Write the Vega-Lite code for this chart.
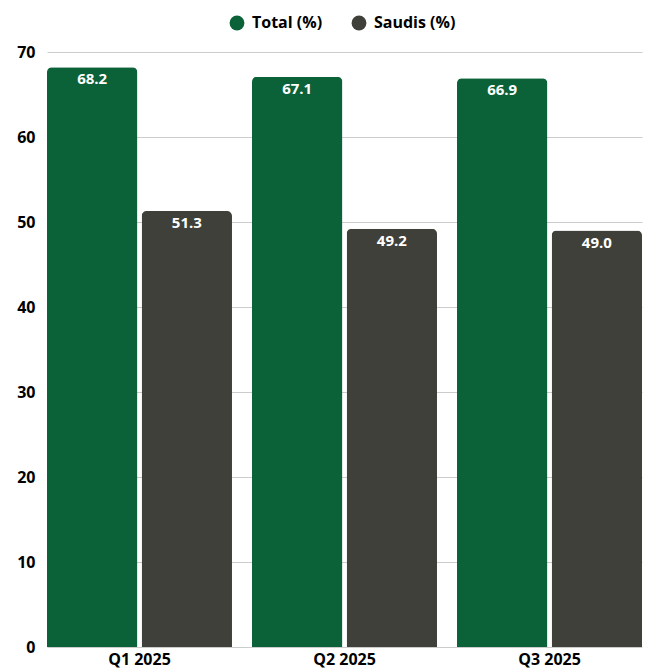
{
  "$schema": "https://vega.github.io/schema/vega-lite/v6.json",
  "autosize": {"type": "none"},
  "width": 595,
  "height": 595,
  "padding": {"left": 47, "top": 52, "right": 6, "bottom": 22},
  "background": "white",
  "config": {
    "font": "Open Sans",
    "view": {"stroke": null}
  },
  "data": {
    "values": [
      {"quarter": "Q1 2025", "series": "Total (%)", "value": 68.2},
      {"quarter": "Q1 2025", "series": "Saudis (%)", "value": 51.3},
      {"quarter": "Q2 2025", "series": "Total (%)", "value": 67.1},
      {"quarter": "Q2 2025", "series": "Saudis (%)", "value": 49.2},
      {"quarter": "Q3 2025", "series": "Total (%)", "value": 66.9},
      {"quarter": "Q3 2025", "series": "Saudis (%)", "value": 49.0}
    ]
  },
  "encoding": {
    "x": {
      "field": "quarter",
      "type": "nominal",
      "sort": null,
      "scale": {"paddingInner": 0.0976, "paddingOuter": 0},
      "axis": {
        "title": null,
        "labelAngle": 0,
        "labelFont": "Open Sans",
        "labelFontWeight": "bold",
        "labelFontSize": 16,
        "labelColor": "#000000",
        "labelPadding": 4,
        "domain": false,
        "ticks": false
      }
    },
    "xOffset": {
      "field": "series",
      "type": "nominal",
      "sort": ["Total (%)", "Saudis (%)"],
      "scale": {"paddingInner": 0.045, "paddingOuter": 0}
    },
    "y": {
      "field": "value",
      "type": "quantitative",
      "scale": {"domain": [0, 70], "nice": false},
      "axis": {
        "title": null,
        "values": [0, 10, 20, 30, 40, 50, 60, 70],
        "labelFont": "Open Sans",
        "labelFontWeight": "bold",
        "labelFontSize": 16,
        "labelColor": "#000000",
        "labelPadding": 12,
        "domain": false,
        "ticks": false,
        "gridColor": "#cccccc",
        "gridWidth": 1
      }
    }
  },
  "layer": [
    {
      "mark": {"type": "bar", "cornerRadiusTopLeft": 5, "cornerRadiusTopRight": 5},
      "encoding": {
        "color": {
          "field": "series",
          "type": "nominal",
          "sort": ["Total (%)", "Saudis (%)"],
          "scale": {"domain": ["Total (%)", "Saudis (%)"], "range": ["#0B6239", "#3F403A"]},
          "legend": {
            "title": null,
            "orient": "none",
            "legendX": 182,
            "legendY": -37,
            "direction": "horizontal",
            "symbolType": "circle",
            "symbolSize": 220,
            "symbolStrokeWidth": 0,
            "labelFont": "Open Sans",
            "labelFontWeight": "bold",
            "labelFontSize": 16,
            "labelColor": "#000000",
            "labelOffset": 7,
            "columnPadding": 28
          }
        }
      }
    },
    {
      "mark": {
        "type": "text",
        "color": "white",
        "font": "Open Sans",
        "fontWeight": "bold",
        "fontSize": 15,
        "baseline": "middle",
        "dy": 12
      },
      "encoding": {
        "text": {"field": "value", "type": "quantitative", "format": ".1f"}
      }
    }
  ]
}
